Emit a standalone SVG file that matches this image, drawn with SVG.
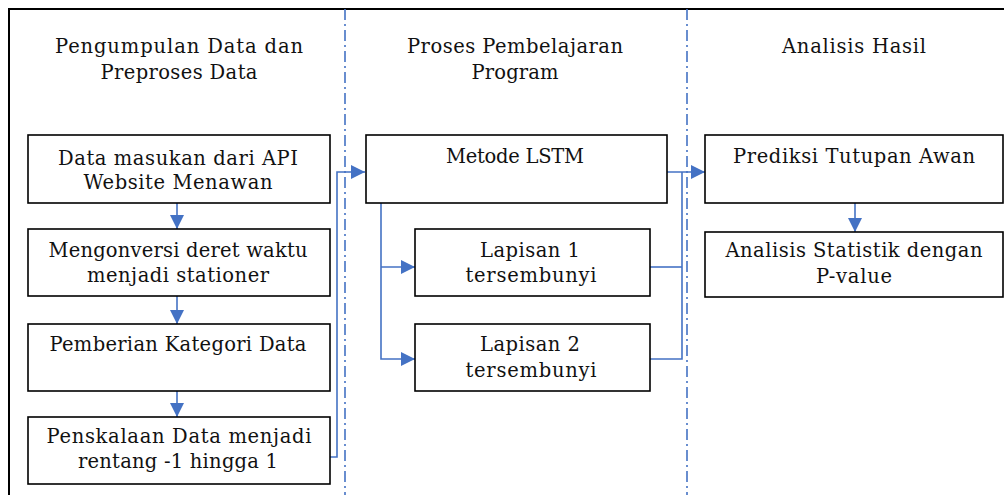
<svg xmlns="http://www.w3.org/2000/svg" width="1004" height="495" viewBox="0 0 1004 495">
<style>
.box{fill:#fff;stroke:#000;stroke-width:1.6}
.t{font-family:"DejaVu Serif","Liberation Serif",serif;font-size:19.5px;fill:#111;text-anchor:middle}
.c{fill:none;stroke:#4472C4;stroke-width:1.6}
.sep{fill:none;stroke:#4472C4;stroke-width:1.6;stroke-dasharray:11 4 2 4}
</style>
<defs>
<marker id="ah" markerUnits="userSpaceOnUse" markerWidth="16" markerHeight="16" refX="14" refY="7" orient="auto">
<path d="M0,0 L14,7 L0,14 Z" fill="#4472C4"/>
</marker>
</defs>
<rect width="1004" height="495" fill="#fff"/>
<path d="M9,495 V9 H1004" fill="none" stroke="#000" stroke-width="2"/>
<g id="separators">
<line class="sep" x1="345" y1="9" x2="345" y2="495"/>
<line class="sep" x1="687" y1="9" x2="687" y2="495"/>
</g>
<g id="headers">
<text class="t" x="179" y="53" textLength="248" lengthAdjust="spacing">Pengumpulan Data dan</text>
<text class="t" x="179" y="79" textLength="157" lengthAdjust="spacing">Preproses Data</text>
<text class="t" x="515" y="53" textLength="216" lengthAdjust="spacing">Proses Pembelajaran</text>
<text class="t" x="515" y="79" textLength="87" lengthAdjust="spacing">Program</text>
<text class="t" x="854" y="53" textLength="144" lengthAdjust="spacing">Analisis Hasil</text>
</g>
<g id="connectors">
<path class="c" d="M177,203 V229" marker-end="url(#ah)"/>
<path class="c" d="M177,296 V324" marker-end="url(#ah)"/>
<path class="c" d="M177,391 V417" marker-end="url(#ah)"/>
<path class="c" d="M330,457 H337 V172 H365" marker-end="url(#ah)"/>
<path class="c" d="M381,203 V359 H415" marker-end="url(#ah)"/>
<path class="c" d="M381,267 H415" marker-end="url(#ah)"/>
<path class="c" d="M667,172 H705" marker-end="url(#ah)"/>
<path class="c" d="M650,267 H682"/>
<path class="c" d="M650,359 H682 V172"/>
<path class="c" d="M855,203 V232" marker-end="url(#ah)"/>
</g>
<g id="n-data-masukan">
<rect class="box" x="28" y="135" width="302" height="68"/>
<text class="t" x="178" y="165" textLength="240" lengthAdjust="spacing">Data masukan dari API</text>
<text class="t" x="178" y="189" textLength="189" lengthAdjust="spacing">Website Menawan</text>
</g>
<g id="n-mengonversi">
<rect class="box" x="28" y="229" width="302" height="67"/>
<text class="t" x="178" y="257" textLength="259" lengthAdjust="spacing">Mengonversi deret waktu</text>
<text class="t" x="178" y="282" textLength="182" lengthAdjust="spacing">menjadi stationer</text>
</g>
<g id="n-kategori">
<rect class="box" x="28" y="324" width="302" height="67"/>
<text class="t" x="178" y="351" textLength="257" lengthAdjust="spacing">Pemberian Kategori Data</text>
</g>
<g id="n-penskalaan">
<rect class="box" x="28" y="417" width="302" height="67"/>
<text class="t" x="179" y="443" textLength="265" lengthAdjust="spacing">Penskalaan Data menjadi</text>
<text class="t" x="178" y="468" textLength="200" lengthAdjust="spacing">rentang -1 hingga 1</text>
</g>
<g id="n-lstm">
<rect class="box" x="366" y="135" width="301" height="68"/>
<text class="t" x="515" y="163" textLength="138" lengthAdjust="spacing">Metode LSTM</text>
</g>
<g id="n-lapisan1">
<rect class="box" x="415" y="229" width="235" height="67"/>
<text class="t" x="530" y="257" textLength="100" lengthAdjust="spacing">Lapisan 1</text>
<text class="t" x="531" y="282" textLength="131" lengthAdjust="spacing">tersembunyi</text>
</g>
<g id="n-lapisan2">
<rect class="box" x="415" y="324" width="235" height="67"/>
<text class="t" x="530" y="351" textLength="100" lengthAdjust="spacing">Lapisan 2</text>
<text class="t" x="531" y="377" textLength="131" lengthAdjust="spacing">tersembunyi</text>
</g>
<g id="n-prediksi">
<rect class="box" x="705" y="135" width="298" height="68"/>
<text class="t" x="854" y="163" textLength="242" lengthAdjust="spacing">Prediksi Tutupan Awan</text>
</g>
<g id="n-analisis">
<rect class="box" x="705" y="232" width="298" height="65"/>
<text class="t" x="854" y="257" textLength="257" lengthAdjust="spacing">Analisis Statistik dengan</text>
<text class="t" x="854" y="283" textLength="76" lengthAdjust="spacing">P-value</text>
</g>
</svg>
